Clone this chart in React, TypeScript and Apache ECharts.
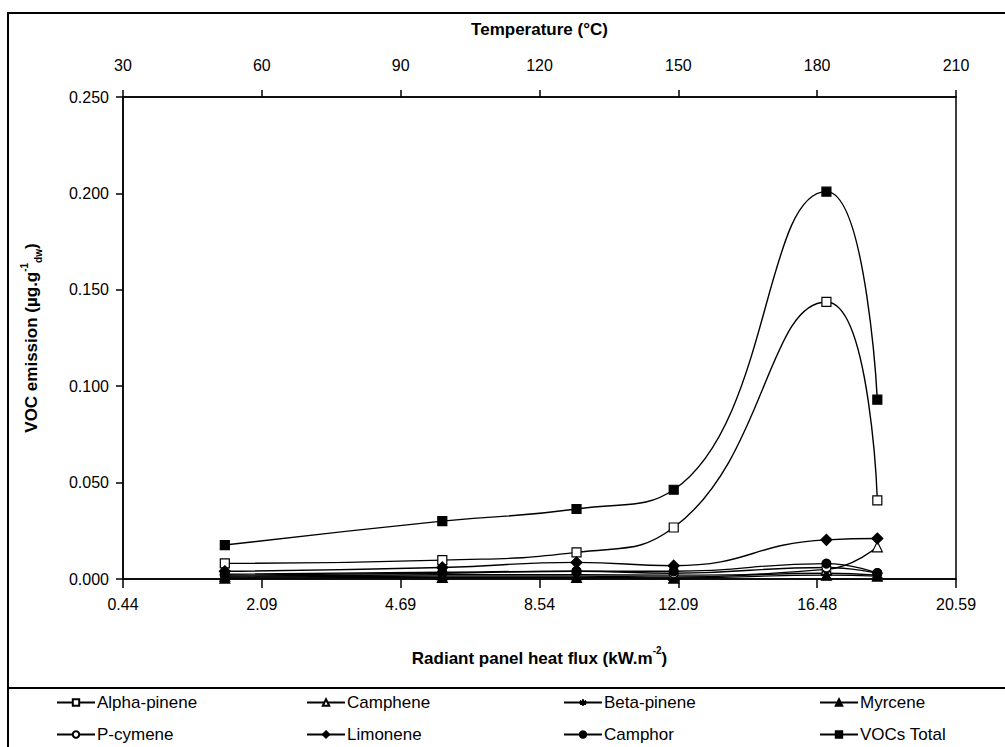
import React, { useEffect, useRef } from "react";
import * as echarts from "echarts";

const temperatures = [52, 99, 128, 149, 182, 193];
const fluxTickLabels = ["0.44", "2.09", "4.69", "8.54", "12.09", "16.48", "20.59"];

const alphaPinene = [0.0081, 0.0098, 0.0138, 0.0267, 0.1437, 0.0408];
const camphene = [0.0015, 0.0022, 0.0022, 0.002, 0.005, 0.0167];
const betaPinene = [0.001, 0.0015, 0.0015, 0.001, 0.003, 0.002];
const myrcene = [0.0005, 0.0008, 0.0008, 0.0005, 0.002, 0.0015];
const pCymene = [0.002, 0.003, 0.004, 0.003, 0.006, 0.003];
const limonene = [0.004, 0.006, 0.0086, 0.0069, 0.0203, 0.021];
const camphor = [0.0025, 0.0035, 0.004, 0.004, 0.008, 0.003];
const vocsTotal = [0.0176, 0.03, 0.0363, 0.0463, 0.2009, 0.093];

const ASTERISK = "path://M5,0 L5,10 M0.7,2.5 L9.3,7.5 M9.3,2.5 L0.7,7.5";

const seriesDefs = [
  { name: "Alpha-pinene", data: alphaPinene, symbol: "rect", fill: "#fff", size: 9 },
  { name: "Camphene", data: camphene, symbol: "triangle", fill: "#fff", size: 10 },
  { name: "Beta-pinene", data: betaPinene, symbol: ASTERISK, fill: "none", size: 10 },
  { name: "Myrcene", data: myrcene, symbol: "triangle", fill: "#000", size: 10 },
  { name: "P-cymene", data: pCymene, symbol: "circle", fill: "#fff", size: 9 },
  { name: "Limonene", data: limonene, symbol: "diamond", fill: "#000", size: 11 },
  { name: "Camphor", data: camphor, symbol: "circle", fill: "#000", size: 9 },
  { name: "VOCs Total", data: vocsTotal, symbol: "rect", fill: "#000", size: 9 },
];

const FONT = "'Liberation Sans', Arial, sans-serif";
const legendCols = [56, 306, 563, 819];
const legendRows = [694, 726];

export default function App() {
  const ref = useRef<HTMLDivElement>(null);
  useEffect(() => {
    const chart = echarts.init(ref.current!, null, { renderer: "svg" });
    const series = seriesDefs.map((s) => ({
      name: s.name,
      type: "line",
      xAxisIndex: 0,
      yAxisIndex: 0,
      smooth: 0.5,
      symbol: s.symbol,
      symbolSize: s.size,
      showSymbol: true,
      data: s.data.map((v, i) => [temperatures[i], v]),
      lineStyle: { color: "#000", width: 1.4 },
      itemStyle: { color: s.fill, borderColor: "#000", borderWidth: 1.2 },
      emphasis: { disabled: true },
      z: 2,
    }));
    const legends = seriesDefs.map((s, i) => ({
      data: [s.name],
      left: legendCols[i % 4],
      top: legendRows[Math.floor(i / 4)],
      itemWidth: 38,
      itemHeight: 8,
      itemGap: 4,
      selectedMode: false,
      padding: 0,
      textStyle: { fontFamily: FONT, fontSize: 17, color: "#000", padding: [0, 0, 0, -3] },
    }));
    chart.setOption({
      animation: false,
      backgroundColor: "#fff",
      grid: {
        left: 123,
        right: 49,
        top: 97,
        bottom: 168,
        show: true,
        borderColor: "#000",
        borderWidth: 1.5,
        backgroundColor: "transparent",
      },
      legend: legends,
      xAxis: [
        {
          type: "value",
          position: "bottom",
          min: 30,
          max: 210,
          interval: 30,
          splitLine: { show: false },
          axisLine: { lineStyle: { color: "#000", width: 1.5 } },
          axisTick: { inside: false, length: 9, lineStyle: { color: "#000", width: 1.5 } },
          axisLabel: {
            margin: 17,
            fontFamily: FONT,
            fontSize: 16,
            color: "#000",
            formatter: (v: number) => fluxTickLabels[Math.round((v - 30) / 30)] ?? "",
          },
          name: "{b|Radiant panel heat flux (kW.m}{sup|-2}{b|)}",
          nameLocation: "middle",
          nameGap: 66,
          nameTextStyle: {
            rich: {
              b: { fontFamily: FONT, fontSize: 17, fontWeight: "bold", color: "#000", lineHeight: 22, verticalAlign: "bottom" },
              sup: { fontFamily: FONT, fontSize: 10, fontWeight: "bold", color: "#000", lineHeight: 22, verticalAlign: "top" },
            },
          },
        },
        {
          type: "value",
          position: "top",
          min: 30,
          max: 210,
          interval: 30,
          splitLine: { show: false },
          axisLine: { lineStyle: { color: "#000", width: 1.5 } },
          axisTick: { inside: false, length: 7, lineStyle: { color: "#000", width: 1.5 } },
          axisLabel: { margin: 24, fontFamily: FONT, fontSize: 16, color: "#000" },
          name: "Temperature (°C)",
          nameLocation: "middle",
          nameGap: 59,
          nameTextStyle: { fontFamily: FONT, fontSize: 17, fontWeight: "bold", color: "#000" },
        },
      ],
      yAxis: [
        {
          type: "value",
          min: 0,
          max: 0.25,
          interval: 0.05,
          splitLine: { show: false },
          axisLine: { show: true, lineStyle: { color: "#000", width: 1.5 } },
          axisTick: { show: true, inside: false, length: 7, lineStyle: { color: "#000", width: 1.5 } },
          axisLabel: {
            margin: 14,
            fontFamily: FONT,
            fontSize: 16,
            color: "#000",
            formatter: (v: number) => v.toFixed(3),
          },
          name: "{b|VOC emission (µg.g}{sup|-1}{sub|dw}{b|)}",
          nameLocation: "middle",
          nameRotate: 90,
          nameGap: 80,
          nameTextStyle: {
            rich: {
              b: { fontFamily: FONT, fontSize: 17, fontWeight: "bold", color: "#000", lineHeight: 24, verticalAlign: "middle" },
              sup: { fontFamily: FONT, fontSize: 10, fontWeight: "bold", color: "#000", lineHeight: 24, verticalAlign: "top" },
              sub: { fontFamily: FONT, fontSize: 10, fontWeight: "bold", color: "#000", lineHeight: 24, verticalAlign: "bottom" },
            },
          },
        },
      ],
      graphic: [
        {
          type: "rect",
          shape: { x: 8, y: 13, width: 1100, height: 800 },
          style: { fill: "none", stroke: "#000", lineWidth: 2 },
          silent: true,
          z: 10,
        },
        {
          type: "line",
          shape: { x1: 8, y1: 688, x2: 1005, y2: 688 },
          style: { stroke: "#000", lineWidth: 2 },
          silent: true,
          z: 10,
        },
      ],
      series,
    });
    return () => chart.dispose();
  }, []);
  return (
    <div
      ref={ref}
      style={{ position: "fixed", left: 0, top: 0, width: 1005, height: 747, background: "#fff" }}
    />
  );
}
